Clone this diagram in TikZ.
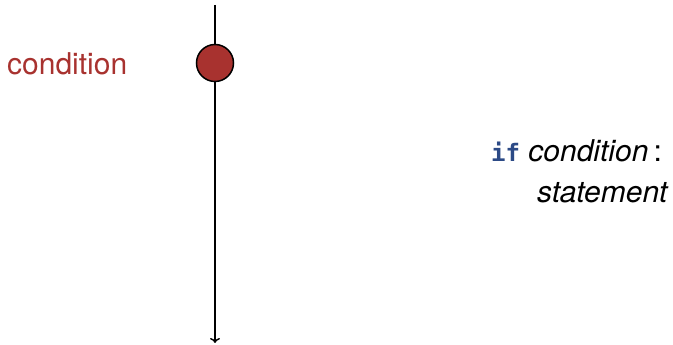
\documentclass[tikz,border=0pt]{standalone}
\usepackage{fontspec}
\setmainfont{TeX Gyre Heros}
\setsansfont{TeX Gyre Heros}
\setmonofont{DejaVu Sans Mono}
\usepackage{xcolor}
\usetikzlibrary{arrows.meta,positioning}
\definecolor{condred}{HTML}{A8322F}
\definecolor{kwblue}{HTML}{2C4A86}
\tikzset{
  condnode/.style={
    circle, draw=black, fill=condred, line width=1.5pt,
    minimum size=37pt, inner sep=0pt
  },
  condlabel/.style={
    font=\fontsize{30}{36}\selectfont, text=condred, inner sep=0pt
  },
  codeline/.style={
    font=\fontsize{30}{36}\selectfont, inner sep=0pt, anchor=base west
  },
  flowline/.style={line width=1.5pt, black},
}
\newcommand{\kw}[1]{{\fontsize{24}{28}\selectfont\ttfamily\bfseries\color{kwblue}#1}}

\begin{document}
\begin{tikzpicture}[x=1pt, y=1pt]
    \useasboundingbox (0,0) rectangle (673,345);

    % Flow line with the condition point
    \coordinate (top) at (215,340);
    \node[condnode] (cond) at (215,282) {};
    \coordinate (bottom) at (215,2);

    % Condition label
    \node[condlabel, anchor=base west] (condtext) at (7,270) {condition};

    % Code
    \node[codeline] (ifline) at (491,183) {\kw{if} \textit{condition}\,:};
    \node[codeline] (stmt) at (537,142) {\textit{statement}};

    % Connectors
    \draw[flowline] (top) -- (cond.north);
    \draw[flowline, -{To[length=5pt, width=10pt]}] (cond.south) -- (bottom);
\end{tikzpicture}
\end{document}
